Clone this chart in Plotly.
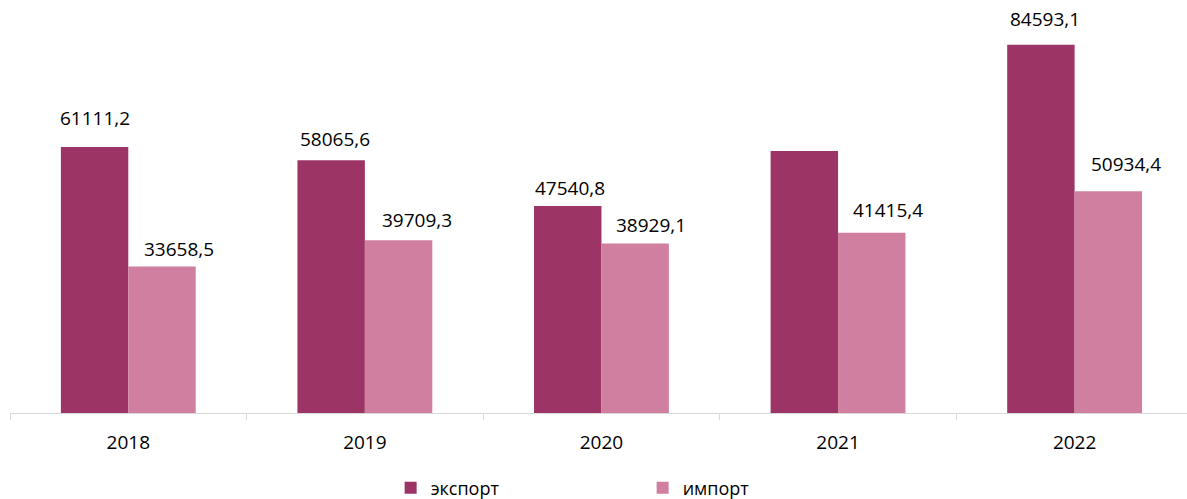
import plotly.graph_objects as go

years = ["2018", "2019", "2020", "2021", "2022"]
export_vals = [61111.2, 58065.6, 47540.8, 60200.0, 84593.1]
import_vals = [33658.5, 39709.3, 38929.1, 41415.4, 50934.4]
export_labels = ["61111,2", "58065,6", "47540,8", "", "84593,1"]
import_labels = ["33658,5", "39709,3", "38929,1", "41415,4", "50934,4"]

# hand-placed label offsets in pixels (x, y) for each series
export_nudge = [(0, 14), (4, 6), (2, 3), (0, 0), (4, 11)]
import_nudge = [(17, 3), (18, 5), (16, 4), (16, 8), (18, 12)]

EXPORT_COLOR = "#9C3566"
IMPORT_COLOR = "#D17FA0"
FONT = "Open Sans, Liberation Sans, sans-serif"

fig = go.Figure()
fig.add_trace(go.Bar(x=years, y=export_vals, name="экспорт",
                     marker=dict(color=EXPORT_COLOR, line=dict(width=0))))
fig.add_trace(go.Bar(x=years, y=import_vals, name="импорт",
                     marker=dict(color=IMPORT_COLOR, line=dict(width=0))))

# value labels above bars
half = 0.1425
for i in range(len(years)):
    for off, val, lab, (dx, dy) in ((-half, export_vals[i], export_labels[i], export_nudge[i]),
                                    (half, import_vals[i], import_labels[i], import_nudge[i])):
        if not lab:
            continue
        fig.add_annotation(x=i + off, y=val, xref="x", yref="y", text=lab,
                           showarrow=False, yanchor="bottom", xshift=dx, yshift=dy,
                           font=dict(family=FONT, size=19, color="#000000"))

fig.update_layout(
    width=1187, height=499,
    margin=dict(l=10, r=0, t=10, b=86, autoexpand=False),
    paper_bgcolor="white", plot_bgcolor="white",
    barmode="group", bargap=0.43, bargroupgap=0,
    font=dict(family=FONT, size=18, color="#000000"),
    showlegend=True,
    legend=dict(orientation="h", x=0.5375, xanchor="center", yref="container",
                y=0.022, yanchor="middle", entrywidth=207,
                font=dict(family=FONT, size=18, color="#000000"),
                traceorder="normal"),
    xaxis=dict(type="category", range=[-0.5, 4.475], showline=True, linecolor="#D9D9D9",
               linewidth=1, ticks="outside", tickson="boundaries", ticklen=6,
               tickcolor="#D9D9D9", showgrid=False, ticklabelstandoff=12,
               automargin=False,
               tickfont=dict(family=FONT, size=19, color="#000000")),
    yaxis=dict(range=[0, 92600], visible=False, showgrid=False, zeroline=False),
)

fig.write_html("out.html")
